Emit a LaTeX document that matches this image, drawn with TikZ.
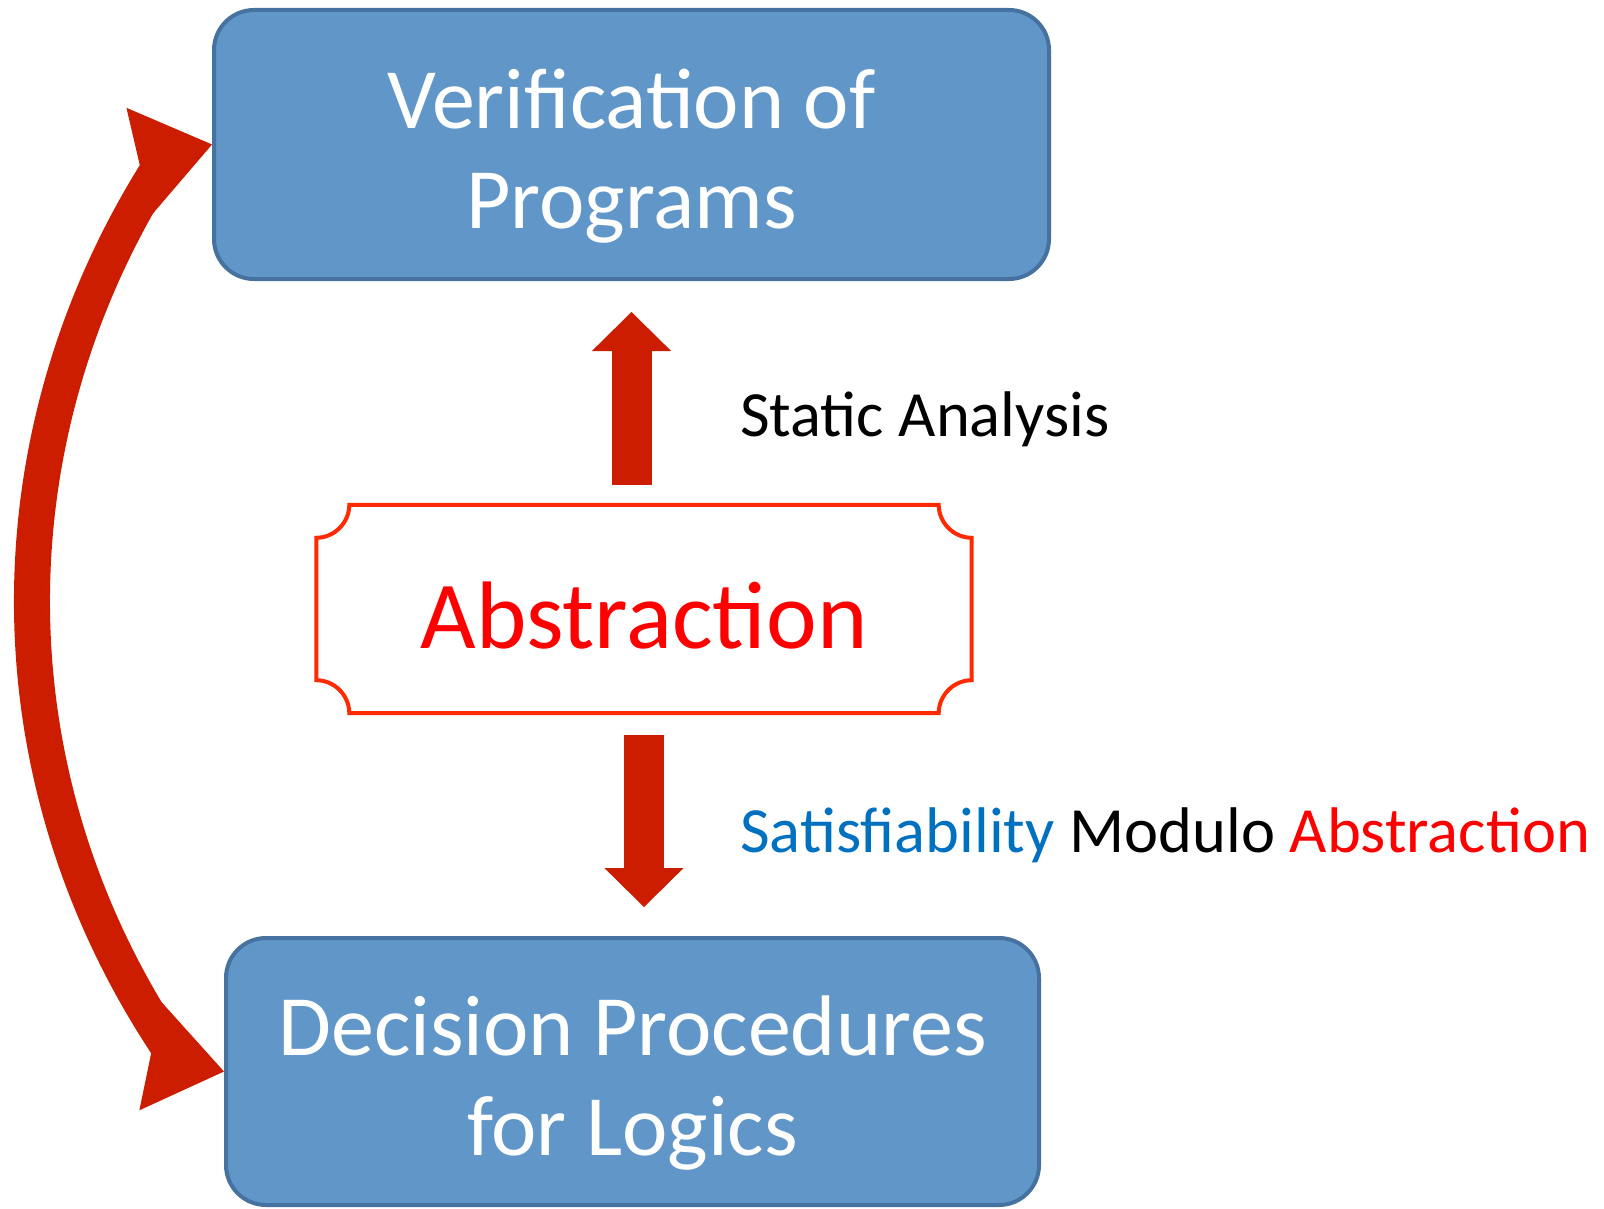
\documentclass[tikz,border=0pt]{standalone}
\usepackage{fontspec}
\setmainfont{Carlito}
\usetikzlibrary{arrows.meta,positioning,calc}
\definecolor{boxfill}{HTML}{6196C9}
\definecolor{boxline}{HTML}{4672A0}
\definecolor{arrowred}{HTML}{CD1D00}
\definecolor{plaqueline}{HTML}{FF2A00}
\definecolor{satblue}{HTML}{0070C0}

\begin{document}
\begin{tikzpicture}[
  x=1pt,y=-1pt,
  box/.style={
    draw=boxline,line width=4pt,fill=boxfill,rounded corners=40pt,
    minimum width=835pt,minimum height=269pt,inner sep=0pt,
    text=white,align=center,text height=168pt,text depth=0pt,
    font=\fontsize{86}{100}\selectfont
  },
  plaque/.style={draw=plaqueline,line width=4pt},
  note/.style={anchor=base west,inner sep=0pt,
    font=\fontsize{64.5}{77}\selectfont},
  blockarrow/.style={draw=arrowred,line width=40pt,
    -{Triangle[length=39pt,width=79pt,line width=1pt]}},
  bendshaft/.style={draw=arrowred,line width=36pt},
  bendhead/.style={draw=arrowred,fill=arrowred,line width=1pt,
    -{Triangle[length=75pt,width=110pt,line width=1pt]}}
]
\useasboundingbox (0,0) rectangle (1604,1209);

\node[box] (programs) at (631.5,144.5) {Verification of\\Programs};
\node[box,minimum width=813pt,minimum height=267pt] (decision)
  at (632.5,1071.5) {Decision Procedures\\for Logics};

\node[minimum width=655pt,minimum height=208pt,inner sep=0pt,
  text=red,text height=78pt,text depth=0pt,
  font=\fontsize{96}{115}\selectfont] (abstraction) at (644,609)
  {Abstraction};
\draw[plaque] ($(abstraction.north west)+(0,33)$)
  .. controls +(18,0) and +(0,18) .. ($(abstraction.north west)+(33,0)$)
  -- ($(abstraction.north east)+(-33,0)$)
  .. controls +(0,18) and +(-18,0) .. ($(abstraction.north east)+(0,33)$)
  -- ($(abstraction.south east)+(0,-33)$)
  .. controls +(-18,0) and +(0,-18) .. ($(abstraction.south east)+(-33,0)$)
  -- ($(abstraction.south west)+(33,0)$)
  .. controls +(0,-18) and +(18,0) .. ($(abstraction.south west)+(0,-33)$)
  -- cycle;

\node[note] (static) at (740,436) {Static Analysis};
\node[note] (sma) at (740,852)
  {\textcolor{satblue}{Satisfiability} Modulo \textcolor{red}{Abstraction}};

\draw[blockarrow,shorten <=20pt,shorten >=31pt]
  (abstraction.north -| programs.south) -- (programs.south);
\draw[blockarrow,shorten <=22pt,shorten >=29pt]
  (abstraction.south) -- (abstraction.south |- decision.north);

\coordinate (vtail) at ($(programs.west)+(-54,25.5)$);
\coordinate (dtail) at ($(decision.west)+(-54,-22.5)$);
\coordinate (vbase) at ($(programs.west)+(-73,17)$);
\coordinate (dbase) at ($(decision.west)+(-72.5,-15)$);
\draw[bendshaft] (vtail) .. controls (-12,440) and (-12,778) .. (dtail);
\draw[bendhead] (vbase) -- (programs.west);
\draw[bendhead] (dbase) -- (decision.west);

\end{tikzpicture}
\end{document}
